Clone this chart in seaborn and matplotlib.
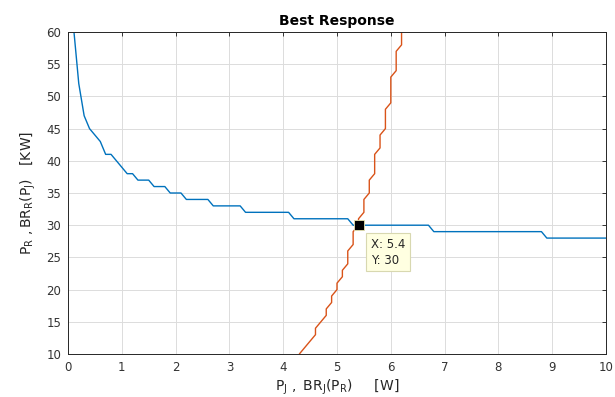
import numpy as np
import pandas as pd
import matplotlib
matplotlib.use('Agg')
import matplotlib.pyplot as plt
import seaborn as sns

# BR_R(P_J): radar power best response over the jammer power grid
pj_grid = [0.1, 0.2, 0.3, 0.4, 0.5, 0.6, 0.7, 0.8, 0.9, 1.0,
           1.1, 1.2, 1.3, 1.4, 1.5, 1.6, 1.7, 1.8, 1.9, 2.0,
           2.1, 2.2, 2.3, 2.4, 2.5, 2.6, 2.7, 2.8, 2.9, 3.0,
           3.1, 3.2, 3.3, 3.4, 3.5, 3.6, 3.7, 3.8, 3.9, 4.0,
           4.1, 4.2, 4.3, 4.4, 4.5, 4.6, 4.7, 4.8, 4.9, 5.0,
           5.1, 5.2, 5.3, 5.4, 5.5, 5.6, 5.7, 5.8, 5.9, 6.0,
           6.1, 6.2, 6.3, 6.4, 6.5, 6.6, 6.7, 6.8, 6.9, 7.0,
           7.1, 7.2, 7.3, 7.4, 7.5, 7.6, 7.7, 7.8, 7.9, 8.0,
           8.1, 8.2, 8.3, 8.4, 8.5, 8.6, 8.7, 8.8, 8.9, 9.0,
           9.1, 9.2, 9.3, 9.4, 9.5, 9.6, 9.7, 9.8, 9.9, 10.0]
br_r = [61, 52, 47, 45, 44, 43, 41, 41, 40, 39,
        38, 38, 37, 37, 37, 36, 36, 36, 35, 35,
        35, 34, 34, 34, 34, 34, 33, 33, 33, 33,
        33, 33, 32, 32, 32, 32, 32, 32, 32, 32,
        32, 31, 31, 31, 31, 31, 31, 31, 31, 31,
        31, 31, 30, 30, 30, 30, 30, 30, 30, 30,
        30, 30, 30, 30, 30, 30, 30, 29, 29, 29,
        29, 29, 29, 29, 29, 29, 29, 29, 29, 29,
        29, 29, 29, 29, 29, 29, 29, 29, 28, 28,
        28, 28, 28, 28, 28, 28, 28, 28, 28, 28]

# BR_J(P_R): jammer power best response over the radar power grid
pr_grid = [10, 11, 12, 13, 14, 15, 16, 17, 18, 19,
           20, 21, 22, 23, 24, 25, 26, 27, 28, 29,
           30, 31, 32, 33, 34, 35, 36, 37, 38, 39,
           40, 41, 42, 43, 44, 45, 46, 47, 48, 49,
           50, 51, 52, 53, 54, 55, 56, 57, 58, 59, 60]
br_j = [4.3, 4.4, 4.5, 4.6, 4.6, 4.7, 4.8, 4.8, 4.9, 4.9,
        5.0, 5.0, 5.1, 5.1, 5.2, 5.2, 5.2, 5.3, 5.3, 5.3,
        5.4, 5.4, 5.5, 5.5, 5.5, 5.6, 5.6, 5.6, 5.7, 5.7,
        5.7, 5.7, 5.8, 5.8, 5.8, 5.9, 5.9, 5.9, 5.9, 6.0,
        6.0, 6.0, 6.0, 6.0, 6.1, 6.1, 6.1, 6.1, 6.2, 6.2, 6.2]

# equilibrium data tip
eq_x = [5.4]
eq_y = [30]

df_r = pd.DataFrame({'x': pj_grid, 'y': br_r})
df_j = pd.DataFrame({'x': br_j, 'y': pr_grid})
df_eq = pd.DataFrame({'x': eq_x, 'y': eq_y})

sns.set_style('white')
plt.rcParams['font.family'] = ['DejaVu Sans']
plt.rcParams['mathtext.fontset'] = 'dejavusans'

fig = plt.figure(figsize=(6.15, 3.97), dpi=100)
ax = fig.add_axes([68 / 615, 1 - 354 / 397, 538 / 615, 322 / 397])

sns.lineplot(data=df_r, x='x', y='y', color='#0072BD', lw=1.0,
             estimator=None, sort=False, ax=ax)
sns.lineplot(data=df_j, x='x', y='y', color='#D95319', lw=1.0,
             estimator=None, sort=False, ax=ax)
sns.scatterplot(data=df_eq, x='x', y='y', marker='s', s=55, color='black',
                edgecolor='#e8e4b0', linewidth=0.6, ax=ax, zorder=5)

ax.annotate(f'X: {eq_x[0]}\nY: {eq_y[0]}', xy=(eq_x[0], eq_y[0]),
            xytext=(9, -9), textcoords='offset points', ha='left', va='top',
            fontsize=8.5, color='#262626', linespacing=1.3,
            bbox=dict(boxstyle='square,pad=0.4', fc='#ffffe1', ec='#d8d8b0', lw=0.8))

ax.set_xlim(0, 10)
ax.set_ylim(10, 60)
ax.set_xticks(range(0, 11))
ax.set_yticks(range(10, 61, 5))
ax.grid(True, color='#dcdcdc', lw=0.7)
ax.tick_params(direction='in', length=3, width=0.7, colors='#333333',
               labelsize=8.5, top=True, right=True, labeltop=False, labelright=False,
               pad=5)
ax.tick_params(axis='y', pad=5)
for s in ax.spines.values():
    s.set_color('#262626')
    s.set_linewidth(0.7)

ax.set_title('Best Response', fontsize=10, fontweight='bold', color='black', pad=5)
ax.set_xlabel(r'$\mathregular{P_J\ ,\ BR_J(P_R)}$     [W]', fontsize=10,
              color='#262626', labelpad=3)
ax.set_ylabel(r'$\mathregular{P_R\ ,BR_R(P_J)}$   [KW]', fontsize=10,
              color='#262626', labelpad=6)

fig.savefig('out.png', dpi=100)
